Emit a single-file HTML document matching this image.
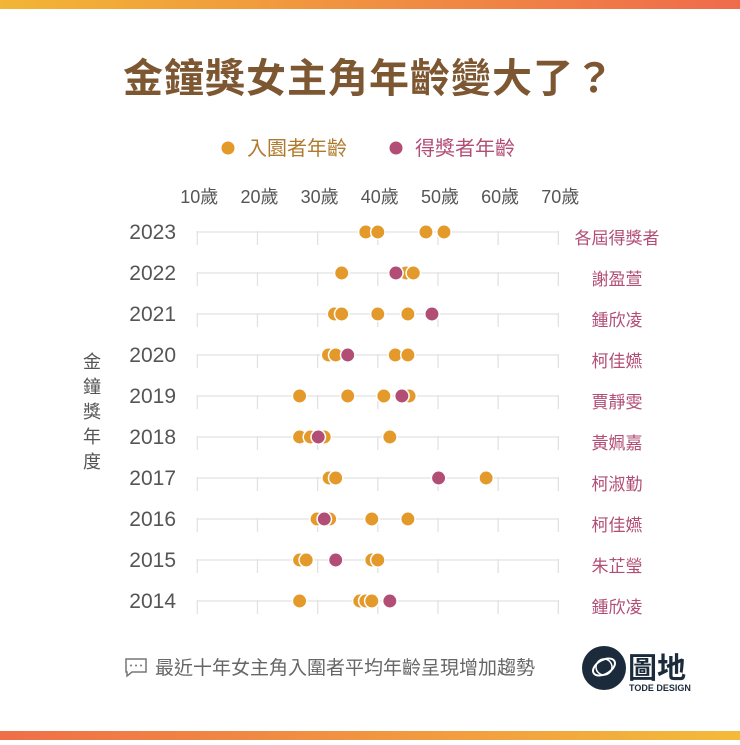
<!DOCTYPE html>
<html><head><meta charset="utf-8">
<style>
body{margin:0;width:740px;height:740px;overflow:hidden;background:#fff;font-family:"Liberation Sans","Noto Sans CJK TC",sans-serif;}
</style></head>
<body>
<svg width="740" height="740" xmlns="http://www.w3.org/2000/svg" font-family="Liberation Sans, Noto Sans CJK TC, sans-serif">
<defs>
<linearGradient id="gt" x1="0" x2="1"><stop offset="0" stop-color="#f2b535"/><stop offset="1" stop-color="#ef6b4c"/></linearGradient>
<linearGradient id="gb" x1="0" x2="1"><stop offset="0" stop-color="#ef6f48"/><stop offset="1" stop-color="#f3bb3a"/></linearGradient>
</defs>
<rect x="0" y="0" width="740" height="9" fill="url(#gt)"/>
<rect x="0" y="731" width="740" height="9" fill="url(#gb)"/>
<text x="369" y="92" text-anchor="middle" font-size="40" font-weight="bold" fill="#7d5732" letter-spacing="1">金鐘獎女主角年齡變大了？</text>
<g>
<circle cx="228" cy="148" r="6.5" fill="#e39a2b"/>
<text x="247" y="155" font-size="20" fill="#b07a2e">入園者年齡</text>
<circle cx="396" cy="148" r="6.5" fill="#b24e76"/>
<text x="415" y="155" font-size="20" fill="#b24e76">得獎者年齡</text>
</g>
<text font-size="18" fill="#555" text-anchor="middle">
<tspan x="92" y="368">金</tspan><tspan x="92" y="393">鐘</tspan><tspan x="92" y="418">獎</tspan><tspan x="92" y="443">年</tspan><tspan x="92" y="468">度</tspan></text>
<g id="plot"></g>
<g>
<path d="M126 659h20v13h-14l-5 4v-4h-1z" fill="none" stroke="#777" stroke-width="1.5"/>
<circle cx="131" cy="665.5" r="1" fill="#777"/><circle cx="136" cy="665.5" r="1" fill="#777"/><circle cx="141" cy="665.5" r="1" fill="#777"/>
<text x="155" y="674" font-size="19" fill="#666">最近十年女主角入圍者平均年齡呈現增加趨勢</text>
</g>
<g>
<circle cx="604" cy="668" r="22" fill="#1c2b3b"/>
<ellipse cx="604" cy="667" rx="12" ry="7" fill="none" stroke="#fff" stroke-width="2" transform="rotate(-30 604 667)"/>
<circle cx="604" cy="667" r="8" fill="none" stroke="#fff" stroke-width="1.5"/>
<text x="628" y="678" font-size="29" font-weight="bold" fill="#1c2b3b">圖地</text>
<text x="629" y="691" font-size="9" font-weight="bold" fill="#1c2b3b">TODE DESIGN</text>
</g>
</svg>
<script>
const years=["2023","2022","2021","2020","2019","2018","2017","2016","2015","2014"];
const winners=["各屆得獎者","謝盈萱","鍾欣凌","柯佳嬿","賈靜雯","黃姵嘉","柯淑勤","柯佳嬿","朱芷瑩","鍾欣凌"];
const nomineeAges=[[38,40,48,51],[34,44.7,45.9],[32.8,34,40,45],[31.8,33,42.9,45],[27,35,41,45.2],[27,28.8,31.1,42],[31.9,33,58],[29.9,32,39,45],[27,28.1,39,40],[27,37,38,39]];
const winnerAges=[null,43,49,35,44,30.1,50.1,31.1,33,42];
const ticks=[10,20,30,40,50,60,70];
const NS="http://www.w3.org/2000/svg";
const g=document.getElementById("plot");
const x=a=>197.3+(a-10)*6.017;
const y=i=>232+i*41;
function mk(t,at){const e=document.createElementNS(NS,t);for(const k in at)e.setAttribute(k,at[k]);g.appendChild(e);return e;}
ticks.forEach(t=>{
  const l=mk("text",{x:x(t)+2,y:203,"text-anchor":"middle","font-size":"18",fill:"#555"});
  l.textContent=t+"歲";
  
  
});
years.forEach((yr,i)=>{
  const ln=mk("line",{x1:x(10),x2:x(70),y1:y(i),y2:y(i),stroke:"#e2e2e2","stroke-width":"1.3"});
  
  
  ticks.forEach(t=>{
    const tk=mk("line",{x1:x(t),x2:x(t),y1:y(i)-1,y2:y(i)+13,stroke:"#e2e2e2","stroke-width":"1.3"});
    
    
  });
  const yl=mk("text",{x:176,y:y(i)+7,"text-anchor":"end","font-size":"21",fill:"#555"});
  yl.textContent=yr;
  
  
  const wn=mk("text",{x:617,y:y(i)+12,"text-anchor":"middle","font-size":"17",fill:"#b24e76"});
  wn.textContent=winners[i];
  
  
  nomineeAges[i].forEach(a=>{
    const c=mk("circle",{cx:x(a),cy:y(i),r:7.2,fill:"#e39a2b",stroke:"#fff","stroke-width":"1.5"});
    
    
  });
  if(winnerAges[i]!=null){
    const c=mk("circle",{cx:x(winnerAges[i]),cy:y(i),r:7.2,fill:"#b24e76",stroke:"#fff","stroke-width":"1.5"});
    
    
  }
});
</script>
</body></html>
